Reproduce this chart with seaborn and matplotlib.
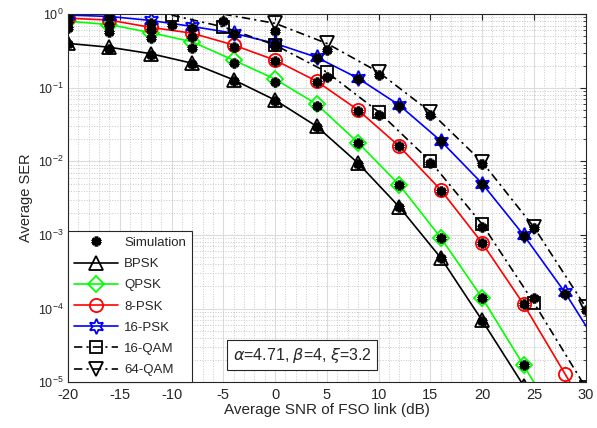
import matplotlib
matplotlib.use("Agg")
import matplotlib.pyplot as plt
import seaborn as sns
from matplotlib.lines import Line2D
from matplotlib.ticker import MultipleLocator, LogLocator, NullFormatter

# valores
snr_psk = [-20, -16, -12, -8, -4, 0, 4, 8, 12, 16, 20, 24, 28, 32]
snr_qam16 = [-10, -5, 0, 5, 10, 15, 20, 25, 30]
snr_qam64 = [-5, 0, 5, 10, 15, 20, 25, 30]

bpsk_teo = [0.40, 0.355, 0.29, 0.215, 0.128, 0.068, 0.030, 0.0095, 0.0024, 4.9e-4, 6.9e-5, 9e-6]
qpsk_teo = [0.80, 0.72, 0.56, 0.42, 0.237, 0.131, 0.060, 0.018, 0.0048, 9.2e-4, 1.4e-4, 1.7e-5, 2e-6]
psk8_teo = [0.88, 0.83, 0.66, 0.55, 0.38, 0.237, 0.123, 0.050, 0.016, 0.0041, 7.8e-4, 1.15e-4, 1.3e-5, 1.5e-6]
psk16_teo = [0.97, 0.93, 0.82, 0.68, 0.55, 0.40, 0.26, 0.135, 0.058, 0.019, 0.0050, 1.0e-3, 1.66e-4, 2.1e-5]
qam16_teo = [0.97, 0.67, 0.38, 0.163, 0.047, 0.010, 1.4e-3, 1.2e-4, 8.5e-6]
qam64_teo = [1.0, 0.75, 0.40, 0.163, 0.047, 0.0098, 1.28e-3, 1.05e-4]

bpsk_sim = [0.39, 0.34, 0.28, 0.21, 0.125, 0.067, 0.029, 0.0093, 0.0024, 4.8e-4, 6.8e-5]
qpsk_sim = [0.64, 0.57, 0.47, 0.345, 0.22, 0.12, 0.056, 0.018, 0.0047, 9.1e-4, 1.4e-4, 1.7e-5]
psk8_sim = [0.80, 0.72, 0.60, 0.49, 0.36, 0.23, 0.12, 0.049, 0.016, 0.0040, 7.7e-4, 1.15e-4]
psk16_sim = [0.95, 0.90, 0.76, 0.65, 0.54, 0.39, 0.255, 0.13, 0.057, 0.019, 0.0049, 9.8e-4, 1.6e-4]
qam16_sim = [0.71, 0.80, 0.37, 0.14, 0.043, 0.0095, 1.3e-3, 1.4e-4]
qam64_sim = [0.59, 0.33, 0.15, 0.043, 0.0091, 1.24e-3, 9.5e-5]

nomes = ["Simulation", "BPSK", "QPSK", "8-PSK", "16-PSK", "16-QAM", "64-QAM"]

sns.set_style("white")
plt.rcParams['font.family'] = ['Liberation Sans', 'DejaVu Sans']
plt.rcParams['mathtext.fontset'] = 'dejavusans'
plt.rcParams['axes.unicode_minus'] = False

fig = plt.figure(figsize=(5.97, 4.28), dpi=100)
ax = fig.add_axes([0.114, 0.107, 0.867, 0.86])

tracejado = (0, (5, 2.5, 1.3, 2.5))
estilos = [
    (snr_psk, bpsk_teo, 'k', '^', 10, '-', None),
    (snr_psk, qpsk_teo, '#00ff00', 'D', 8, '-', None),
    (snr_psk, psk8_teo, '#ff0000', 'o', 9.5, '-', None),
    (snr_psk, psk16_teo, '#0000ff', (6, 1, 0), 11, '-', None),
    (snr_qam16, qam16_teo, 'k', 's', 9, tracejado, None),
    (snr_qam64, qam64_teo, 'k', 'v', 10, tracejado, list(range(1, len(qam64_teo)))),
]

handles = [Line2D([], [], color='k', marker=(6, 2, 0), markersize=7, markeredgewidth=2.6, linestyle='none')]
for snr, ser, cor, mk, ms, ls, me in estilos:
    sns.lineplot(x=snr[:len(ser)], y=ser, ax=ax, color=cor, linestyle=ls, linewidth=1.2,
                 marker=mk, markersize=ms, markerfacecolor='none', markeredgecolor=cor,
                 markeredgewidth=1.3, markevery=me, errorbar=None, sort=False)
    handles.append(Line2D([], [], color=cor, linestyle=ls, linewidth=1.2, marker=mk, markersize=ms,
                          markerfacecolor='none', markeredgecolor=cor, markeredgewidth=1.3))

# simulacoes (asteriscos pretos)
for snr, sim in [(snr_psk, bpsk_sim), (snr_psk, qpsk_sim), (snr_psk, psk8_sim), (snr_psk, psk16_sim),
                 (snr_qam16, qam16_sim), (snr_qam64[1:], qam64_sim)]:
    sns.lineplot(x=snr[:len(sim)], y=sim, ax=ax, color='k', linestyle='none', marker=(6, 2, 0),
                 markersize=7, markeredgecolor='k', markeredgewidth=2.6, errorbar=None, sort=False)

ax.set_yscale('log')
ax.set_xlim(-20, 30)
ax.set_ylim(1e-5, 1)
ax.xaxis.set_major_locator(MultipleLocator(5))
ax.xaxis.set_minor_locator(MultipleLocator(1))
ax.yaxis.set_major_locator(LogLocator(base=10, numticks=10))
ax.yaxis.set_minor_locator(LogLocator(base=10, subs=range(2, 10), numticks=10))
ax.yaxis.set_minor_formatter(NullFormatter())

ax.grid(which='major', color='#dcdcdc', linewidth=0.8)
ax.grid(which='minor', color='#c8c8c8', linestyle=':', linewidth=0.7)
ax.set_axisbelow(True)
ax.tick_params(which='both', direction='in', top=True, right=True, colors='#262626')
ax.tick_params(which='major', length=4, width=0.8)
ax.tick_params(which='minor', length=2, width=0.6)
ax.tick_params(axis='x', which='minor', length=0)
ax.tick_params(axis='x', labelsize=10.5, pad=4)
ax.tick_params(axis='y', labelsize=9, pad=3)
for sp in ax.spines.values():
    sp.set_color('#262626')
    sp.set_linewidth(0.8)

ax.set_xlabel('Average SNR of FSO link (dB)', fontsize=11, color='#262626', labelpad=1)
ax.set_ylabel('Average SER', fontsize=10.5, color='#262626', labelpad=4)

leg = ax.legend(handles, nomes, loc='lower left', borderaxespad=0, fontsize=9.5, frameon=True,
                fancybox=False, framealpha=1, edgecolor='#262626', handlelength=3.3,
                labelspacing=0.68, borderpad=0.45, handletextpad=0.5)
leg.get_frame().set_linewidth(0.8)

ax.text(0.452, 0.073, r'$\alpha$=4.71, $\beta$=4, $\xi$=3.2', transform=ax.transAxes,
        ha='center', va='center', fontsize=11.5,
        bbox=dict(boxstyle='square,pad=0.35', facecolor='white', edgecolor='#262626', linewidth=0.8))

plt.savefig('out.png', dpi=100)
